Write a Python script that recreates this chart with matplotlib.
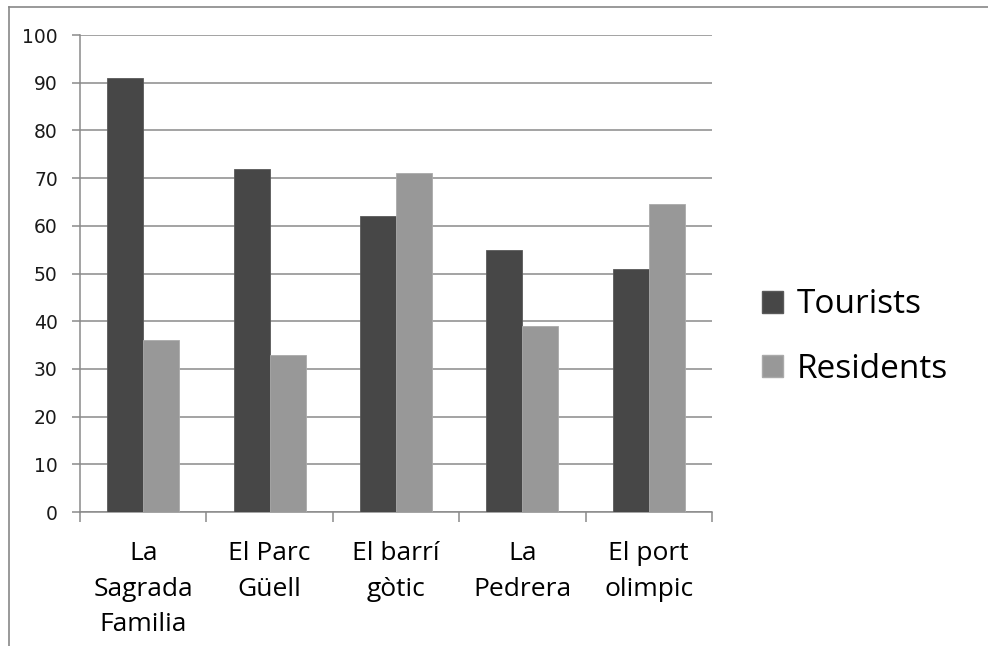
import matplotlib
matplotlib.use("Agg")
from matplotlib import pyplot as plt
from matplotlib.patches import Patch
from matplotlib.lines import Line2D
import numpy as np

# data
places = ["La\nSagrada\nFamilia", "El Parc\nGüell", "El barrí\ngòtic", "La\nPedrera", "El port\nolimpic"]
tourists = [91, 72, 62, 55, 51]
residents = [36, 33, 71, 39, 64.5]
yticks = [0, 10, 20, 30, 40, 50, 60, 70, 80, 90, 100]

dark = "#474747"
light = "#989898"
grey = "#8a8a8a"

fig = plt.figure(figsize=(9.88, 6.46), dpi=100)
ax = fig.add_axes([0.081, 0.2074, 0.6396, 0.7384])

x = np.arange(len(places))
w = 0.285
ax.bar(x - w / 2, tourists, w, color=dark, edgecolor="#5a5a5a", linewidth=0.6, zorder=3, label="Tourists")
ax.bar(x + w / 2, residents, w, color=light, edgecolor="#aaaaaa", linewidth=0.6, zorder=3, label="Residents")

ax.set_xlim(-0.5, len(places) - 0.5)
ax.set_ylim(0, 100)
ax.set_yticks(yticks)
ax.yaxis.grid(True, color=grey, linewidth=1.1, zorder=0)
ax.set_axisbelow(True)

# category labels in the middle, tick marks on the boundaries
ax.set_xticks(x)
ax.set_xticklabels(places, fontsize=19, family="Open Sans", linespacing=1.55)
ax.set_xticks(np.arange(-0.5, len(places)), minor=True)
ax.tick_params(axis="x", which="major", length=0, pad=21)
ax.tick_params(axis="x", which="minor", length=7, width=1.1, color=grey, direction="out")
ax.tick_params(axis="y", length=6, width=1.1, color=grey, pad=10, labelsize=13.5, labelcolor="#1a1a1a")

for s in ["top", "right"]:
    ax.spines[s].set_visible(False)
for s in ["left", "bottom"]:
    ax.spines[s].set_color(grey)
    ax.spines[s].set_linewidth(1.1)

handles = [Patch(facecolor=dark, edgecolor="#5a5a5a"), Patch(facecolor=light, edgecolor="#aaaaaa")]
fig.legend(handles, ["Tourists", "Residents"], loc="center left", bbox_to_anchor=(0.754, 0.478),
           frameon=False, prop={"family": "Open Sans", "size": 24}, handlelength=0.65, handleheight=0.65,
           handletextpad=0.4, labelspacing=0.95, borderpad=0)

# outer frame (only top and left are in the picture)
fig.add_artist(Line2D([0.009, 1.0], [0.989, 0.989], color="#888888", linewidth=1.2))
fig.add_artist(Line2D([0.009, 0.009], [0.0, 0.989], color="#888888", linewidth=1.2))

plt.savefig("out.png", dpi=100)
